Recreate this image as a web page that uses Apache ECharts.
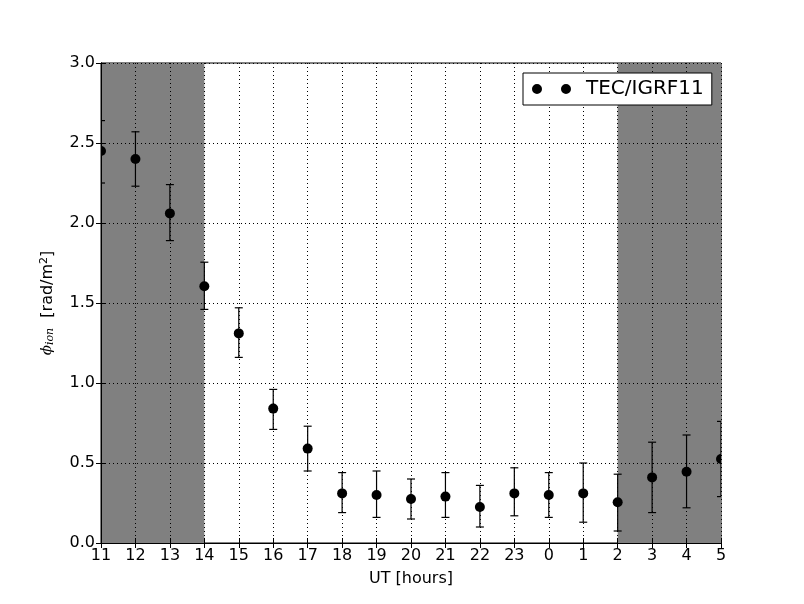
<!DOCTYPE html>
<html>
<head>
<meta charset="utf-8">
<script src="https://cdn.jsdelivr.net/npm/echarts@6/dist/echarts.min.js"></script>
<style>
  html, body { margin: 0; padding: 0; background: #fff; }
  #chart { width: 804px; height: 604px; }
</style>
</head>
<body>
<div id="chart"></div>
<script>
// UT hour labels along the x axis (positions 0..18)
const hours = ['11', '12', '13', '14', '15', '16', '17', '18', '19', '20', '21', '22', '23', '0', '1', '2', '3', '4', '5']
// phi_ion values and error bar ends
const phi   = [2.45, 2.40, 2.06, 1.605, 1.31, 0.84, 0.59, 0.31, 0.30, 0.275, 0.29, 0.225, 0.31, 0.30, 0.31, 0.255, 0.41, 0.445, 0.525]
const upper = [2.64, 2.57, 2.24, 1.755, 1.47, 0.96, 0.73, 0.44, 0.45, 0.40, 0.44, 0.36, 0.47, 0.44, 0.50, 0.43, 0.63, 0.675, 0.76]
const lower = [2.25, 2.23, 1.89, 1.46, 1.16, 0.71, 0.45, 0.19, 0.16, 0.15, 0.16, 0.10, 0.17, 0.16, 0.13, 0.075, 0.19, 0.22, 0.29]
// shaded night bands (x positions)
const bandStart = [0, 15]
const bandEnd = [3, 18]
const yTicks = ['0.0', '0.5', '1.0', '1.5', '2.0', '2.5', '3.0']

const chart = echarts.init(document.getElementById('chart'))

const fontFamily = 'DejaVu Sans'
const points = phi.map((v, i) => [i, v])
const bars = phi.map((v, i) => [i, lower[i], upper[i]])
const bands = bandStart.map((s, i) => [s, bandEnd[i]])

chart.setOption({
  animation: false,
  textStyle: { fontFamily: fontFamily },
  grid: {
    left: 101, top: 63, right: 83, bottom: 61,
    show: true, borderColor: '#000', borderWidth: 1, backgroundColor: 'transparent'
  },
  legend: {
    data: ['TEC/IGRF11'],
    left: 523, top: 73,
    padding: [6, 8, 6, 9],
    borderColor: '#000', borderWidth: 1, borderRadius: 0,
    backgroundColor: '#fff',
    itemWidth: 39, itemHeight: 10,
    icon: 'path://M0,5a5,5 0 1,0 10,0a5,5 0 1,0 -10,0zM29,5a5,5 0 1,0 10,0a5,5 0 1,0 -10,0z',
    itemStyle: { color: '#000', opacity: 1 },
    textStyle: { fontSize: 20, color: '#000', padding: [0, 0, 0, 10], fontFamily: fontFamily }
  },
  xAxis: [{
    type: 'value', min: 0, max: 18, interval: 1, z: 1,
    name: 'UT [hours]', nameLocation: 'middle', nameGap: 28,
    nameTextStyle: { fontSize: 16, color: '#000' },
    axisLine: { show: true, onZero: false, lineStyle: { color: '#000' } },
    axisTick: { inside: true, length: 5, lineStyle: { color: '#000' } },
    axisLabel: { fontSize: 16, color: '#000', margin: 5, formatter: v => hours[v] },
    splitLine: { show: true, lineStyle: { color: '#000', type: [1, 3], width: 1 } }
  }, {
    type: 'value', min: 0, max: 18, interval: 1, position: 'top', z: 1,
    axisLine: { show: true, lineStyle: { color: '#000' } },
    axisTick: { inside: true, length: 5, lineStyle: { color: '#000' } },
    axisLabel: { show: false },
    splitLine: { show: false }
  }],
  yAxis: [{
    type: 'value', min: 0, max: 3, interval: 0.5, z: 1,
    name: '{phi|ϕ}{sub|ion}  [rad/m{sup|2}]', nameLocation: 'middle', nameGap: 45, nameRotate: 90,
    nameTextStyle: {
      fontSize: 16, color: '#000',
      rich: {
        phi: { fontSize: 15, fontStyle: 'italic', fontFamily: 'DejaVu Serif', color: '#000' },
        sub: { fontSize: 11, fontStyle: 'italic', fontFamily: 'DejaVu Serif', verticalAlign: 'bottom', padding: [6, 0, 0, 0], color: '#000' },
        sup: { fontSize: 11, verticalAlign: 'top', padding: [0, 0, 6, 0], color: '#000' }
      }
    },
    axisLine: { show: true, onZero: false, lineStyle: { color: '#000' } },
    axisTick: { inside: true, length: 5, lineStyle: { color: '#000' } },
    axisLabel: { fontSize: 16, color: '#000', margin: 6, formatter: v => yTicks[Math.round(v * 2)] },
    splitLine: { show: true, lineStyle: { color: '#000', type: [1, 3], width: 1 } }
  }, {
    type: 'value', min: 0, max: 3, interval: 0.5, position: 'right', z: 1,
    axisLine: { show: true, lineStyle: { color: '#000' } },
    axisTick: { inside: true, length: 5, lineStyle: { color: '#000' } },
    axisLabel: { show: false },
    splitLine: { show: false }
  }],
  series: [{
    type: 'custom',
    name: 'bands',
    z: 0,
    silent: true,
    data: bands,
    renderItem: (params, api) => {
      const p0 = api.coord([api.value(0), 3])
      const p1 = api.coord([api.value(1), 0])
      return {
        type: 'rect',
        shape: { x: p0[0], y: p0[1], width: p1[0] - p0[0], height: p1[1] - p0[1] },
        style: { fill: '#808080' }
      }
    }
  }, {
    type: 'custom',
    name: 'errors',
    z: 3,
    clip: true,
    data: bars,
    renderItem: (params, api) => {
      const x = api.value(0)
      const lo = api.coord([x, api.value(1)])
      const hi = api.coord([x, api.value(2)])
      const c = 4
      const st = { stroke: '#000', lineWidth: 1.2 }
      return {
        type: 'group',
        children: [
          { type: 'line', shape: { x1: lo[0], y1: lo[1], x2: hi[0], y2: hi[1] }, style: st },
          { type: 'line', shape: { x1: lo[0] - c, y1: lo[1], x2: lo[0] + c, y2: lo[1] }, style: st },
          { type: 'line', shape: { x1: hi[0] - c, y1: hi[1], x2: hi[0] + c, y2: hi[1] }, style: st }
        ]
      }
    }
  }, {
    type: 'custom',
    name: 'TEC/IGRF11',
    z: 4,
    clip: true,
    itemStyle: { color: '#000', opacity: 1 },
    data: points,
    renderItem: (params, api) => {
      const p = api.coord([api.value(0), api.value(1)])
      return {
        type: 'circle',
        shape: { cx: p[0], cy: p[1], r: 5 },
        style: { fill: '#000' }
      }
    }
  }]
})
</script>
</body>
</html>
